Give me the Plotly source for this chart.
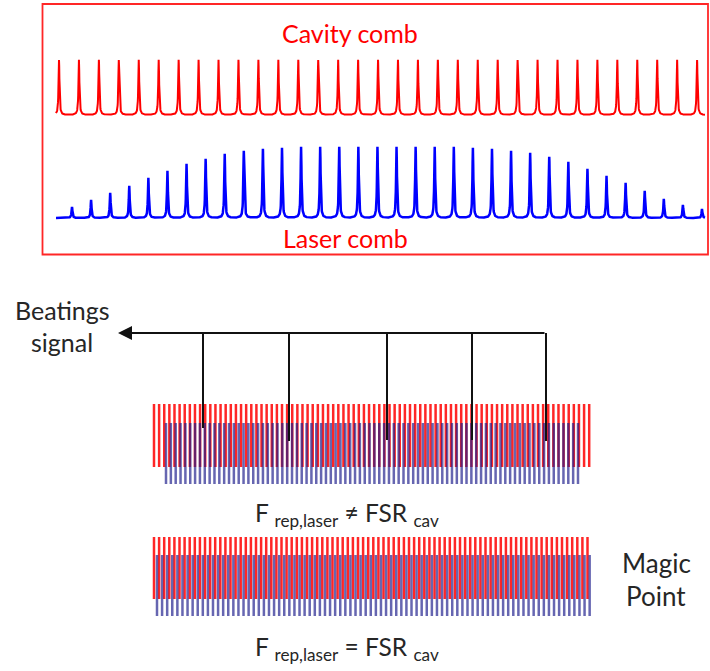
import numpy as np
import plotly.graph_objects as go

W, H = 710, 671

# ---------------- data ----------------
# Top panel: cavity comb (33 equal modes) and laser comb (34 modes, bell-shaped envelope)
cavity_heights = [55] * 33
laser_heights = [11, 18, 25, 32, 40, 47, 54, 59, 64, 67, 69, 70, 71, 71, 71, 71,
                 71, 71, 71, 71, 71, 70, 69, 67, 65, 61, 56, 49, 42, 35, 27, 19, 13, 9]
cavity_start, cavity_fsr = 59.0, 19.94
laser_start, laser_frep = 72.0, 19.09
cavity_base, laser_base = 115.0, 218.0
comb_x_range = [56.0, 705.0]

# Bottom panel: overlapping combs (number of teeth per comb)
n_teeth = 86
# (start, step) of each comb in the two cases
mismatch_red = (154.0, 5.12)
mismatch_blue = (166.0, 4.847)
match_red = (154.0, 5.10)
match_blue = (157.0, 5.09)
mismatch_red_y, mismatch_blue_y = (404.0, 467.0), (423.0, 484.0)
match_red_y, match_blue_y = (537.0, 599.0), (555.0, 616.0)

# Beat-note pick-off lines
beat_x = [203, 289, 387, 472, 546]
beat_bottom = [428, 441, 440, 440, 441]
beat_y = 333.0
arrow_tip_x = 118.0

# ---------------- helpers ----------------
def lorentz_comb(centers, heights, base, g=0.55):
    grid = np.arange(comb_x_range[0], comb_x_range[1] + 0.01, 0.2)
    xs = np.sort(np.concatenate([grid, centers, centers - 0.5, centers + 0.5]))
    y = np.zeros_like(xs)
    for c, h in zip(centers, heights):
        y += h * g * g / ((xs - c) ** 2 + g * g)
    return xs, base - y

def teeth(start_step, yr):
    s, d = start_step
    xs, ys = [], []
    for i in range(n_teeth):
        x = s + i * d
        xs += [x, x, None]
        ys += [yr[0], yr[1], None]
    return xs, ys

fig = go.Figure()

# Top combs
cav_c = cavity_start + cavity_fsr * np.arange(len(cavity_heights))
las_c = laser_start + laser_frep * np.arange(len(laser_heights))
x1, y1 = lorentz_comb(cav_c, cavity_heights, cavity_base)
x2, y2 = lorentz_comb(las_c, laser_heights, laser_base)
fig.add_trace(go.Scatter(x=x1, y=y1, mode="lines", line=dict(color="#ff0000", width=2),
                         hoverinfo="skip", showlegend=False))
fig.add_trace(go.Scatter(x=x2, y=y2, mode="lines", line=dict(color="#0000ff", width=2.5),
                         hoverinfo="skip", showlegend=False))

# Bottom bands
red_col = "rgba(255,0,0,0.85)"
blue_col = "rgba(30,30,140,0.68)"
for spec, yr, col in [(mismatch_red, mismatch_red_y, red_col),
                      (mismatch_blue, mismatch_blue_y, blue_col),
                      (match_red, match_red_y, red_col),
                      (match_blue, match_blue_y, blue_col)]:
    tx, ty = teeth(spec, yr)
    fig.add_trace(go.Scatter(x=tx, y=ty, mode="lines", line=dict(color=col, width=2.5),
                             hoverinfo="skip", showlegend=False))

# Beat lines (verticals)
vx, vy = [], []
for bx, bb in zip(beat_x, beat_bottom):
    vx += [bx, bx, None]
    vy += [beat_y, bb, None]
fig.add_trace(go.Scatter(x=vx, y=vy, mode="lines", line=dict(color="#111111", width=2),
                         hoverinfo="skip", showlegend=False))

# Box around top panel
fig.add_shape(type="rect", x0=42.5, x1=708, y0=4, y1=254.5, xref="x", yref="y",
              line=dict(color="rgba(255,0,0,0.85)", width=1.8))

# Arrow
fig.add_annotation(x=arrow_tip_x, y=beat_y, ax=max(beat_x), ay=beat_y,
                   xref="x", yref="y", axref="x", ayref="y", text="",
                   showarrow=True, arrowhead=2, arrowsize=1.4, arrowwidth=2,
                   arrowcolor="#111111")

font = "Lato, 'Open Sans', sans-serif"
def txt(x, y, s, color, size, xanchor="center"):
    fig.add_annotation(x=x, y=y, xref="x", yref="y", text=s, showarrow=False,
                       font=dict(family=font, size=size, color=color),
                       xanchor=xanchor, yanchor="middle")

txt(350, 33, "Cavity comb", "#ff0000", 25)
txt(345, 238, "Laser comb", "#ff0000", 25)
txt(62, 310, "Beatings", "#262626", 25)
txt(62, 342, "signal", "#262626", 25)
txt(347, 514, "F <sub>rep,laser</sub> ≠ FSR <sub>cav</sub>", "#262626", 24.5)
txt(347, 648, "F <sub>rep,laser</sub> = FSR <sub>cav</sub>", "#262626", 24.5)
txt(656, 563, "Magic", "#262626", 26)
txt(656, 596, "Point", "#262626", 26)

fig.update_xaxes(range=[0, W], visible=False, fixedrange=True)
fig.update_yaxes(range=[H, 0], visible=False, fixedrange=True)
fig.update_layout(width=W, height=H, margin=dict(l=0, r=0, t=0, b=0),
                  plot_bgcolor="white", paper_bgcolor="white", showlegend=False)

fig.write_html("out.html", config={"displayModeBar": False},
               post_script="document.body.style.margin='0';document.body.style.overflow='hidden';")
